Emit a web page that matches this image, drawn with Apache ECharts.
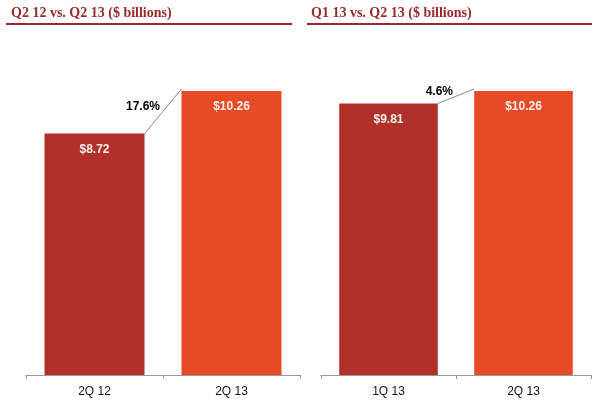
<!DOCTYPE html>
<html><head><meta charset="utf-8">
<script src="https://cdn.jsdelivr.net/npm/echarts@6/dist/echarts.min.js"></script>
<style>html,body{margin:0;padding:0;background:#fff}#c{width:601px;height:404px}</style>
</head><body><div id="c"></div>
<script>
const titles = ['Q2 12 vs. Q2 13 ($ billions)', 'Q1 13 vs. Q2 13 ($ billions)'];
const leftCategories = ['2Q 12', '2Q 13'];
const leftValues = [8.72, 10.26];
const rightCategories = ['1Q 13', '2Q 13'];
const rightValues = [9.81, 10.26];
const changePct = [17.6, 4.6];

const barColors = ['#B1302A', '#E64A27'];
const titleColor = '#9B2B2B';
const BAR_RATIO = 0.73;

const chart = echarts.init(document.getElementById('c'), null, {renderer: 'canvas'});

function xAxisCfg(gi, cats) {
  return {
    type: 'category', gridIndex: gi, data: cats,
    axisLine: {lineStyle: {color: '#999', width: 1}},
    axisTick: {show: true, length: 4, alignWithLabel: false, lineStyle: {color: '#999'}},
    axisLabel: {color: '#111', fontFamily: 'Arial, Liberation Sans', fontSize: 12, margin: 11}
  };
}
function yAxisCfg(gi) {
  return {type: 'value', gridIndex: gi, min: 0, max: 11, show: false, splitLine: {show: false}};
}
function barSeries(gi, vals) {
  return {
    type: 'bar', xAxisIndex: gi, yAxisIndex: gi, barWidth: (BAR_RATIO * 100) + '%',
    data: vals.map((v, i) => ({value: v, itemStyle: {color: barColors[i]}})),
    label: {show: true, position: 'insideTop', distance: 10, color: '#FBF0EA',
      fontFamily: 'Arial, Liberation Sans', fontWeight: 'bold', fontSize: 12,
      formatter: p => '$' + p.value.toFixed(2)},
    silent: true, animation: false
  };
}
function connector(gi, vals, pct) {
  return {
    type: 'custom', xAxisIndex: gi, yAxisIndex: gi, animation: false, silent: true,
    data: [[0, vals[0], vals[1]]],
    encode: {x: 0, y: 1},
    renderItem: function (params, api) {
      const a = api.coord([0, api.value(1)]);
      const b = api.coord([1, api.value(2)]);
      const half = api.size([1, 0])[0] * BAR_RATIO / 2;
      const x1 = a[0] + half, y1 = a[1];
      const x2 = b[0] - half, y2 = b[1] - 2;
      const mx = (x1 + x2) / 2, my = (y1 + y2) / 2;
      return {type: 'group', children: [
        {type: 'line', shape: {x1: x1, y1: y1, x2: x2, y2: y2}, style: {stroke: '#888', lineWidth: 1}},
        {type: 'text', style: {text: pct.toFixed(1) + '%', x: mx - 3, y: my - 5,
          align: 'right', verticalAlign: 'middle', fill: '#000',
          font: 'bold 12px Arial, "Liberation Sans"'}}
      ]};
    }
  };
}

chart.setOption({
  animation: false,
  grid: [
    {left: 26, width: 274, top: 70.5, height: 304.5},
    {left: 321, width: 270, top: 70.5, height: 304.5}
  ],
  xAxis: [xAxisCfg(0, leftCategories), xAxisCfg(1, rightCategories)],
  yAxis: [yAxisCfg(0), yAxisCfg(1)],
  series: [
    barSeries(0, leftValues), barSeries(1, rightValues),
    connector(0, leftValues, changePct[0]), connector(1, rightValues, changePct[1])
  ],
  graphic: [
    {type: 'text', left: 11, top: 6, style: {text: titles[0], fill: titleColor,
      font: 'bold 14px "Liberation Serif", "DejaVu Serif", serif'}},
    {type: 'text', left: 311, top: 6, style: {text: titles[1], fill: titleColor,
      font: 'bold 14px "Liberation Serif", "DejaVu Serif", serif'}},
    {type: 'rect', shape: {x: 6, y: 23, width: 286, height: 2}, style: {fill: titleColor}},
    {type: 'rect', shape: {x: 307, y: 23, width: 285, height: 2}, style: {fill: titleColor}}
  ]
});
</script></body></html>
